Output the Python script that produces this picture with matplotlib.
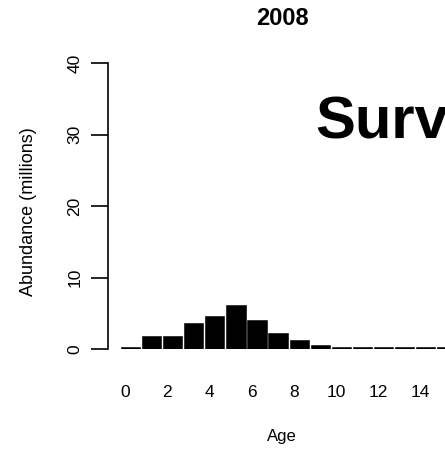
import matplotlib
matplotlib.use("Agg")
import matplotlib.pyplot as plt
import numpy as np

plt.rcParams['font.family'] = ['Liberation Sans', 'DejaVu Sans']

ages = list(range(16))
abundance = [0.25, 1.85, 1.85, 3.6, 4.65, 6.1, 4.0, 2.2, 1.3, 0.6, 0.22, 0.22, 0.22, 0.22, 0.22, 0.22]
xtick_vals = [0, 2, 4, 6, 8, 10, 12, 14]
ytick_vals = [0, 10, 20, 30, 40]
title = "2008"
big_text = "Survey"

W, H = 445, 449
fig = plt.figure(figsize=(W/100, H/100), dpi=100)

pitch = 21.1
x0px = 130.4
left_px = 108
ax = fig.add_axes([left_px/W, 100/H, (W-left_px)/W, 286/H])
ax.bar(ages, abundance, width=0.915, color='black', edgecolor='black', linewidth=0.4)
ax.set_xlim((left_px - x0px)/pitch, (W - x0px)/pitch)
ax.set_ylim(0, 40)

for s in ['top', 'right', 'bottom']:
    ax.spines[s].set_visible(False)
ax.spines['left'].set_bounds(0, 40)
ax.spines['left'].set_linewidth(1.2)

ax.set_yticks(ytick_vals)
ax.set_yticklabels([str(v) for v in ytick_vals], rotation=90, va='center', fontsize=12.5)
ax.tick_params(axis='y', length=12.5, width=1.2, pad=6)

ax.set_xticks([v - 0.25 for v in xtick_vals])
ax.set_xticklabels([str(v) for v in xtick_vals], fontsize=12.5)
ax.tick_params(axis='x', length=0, pad=26)

fig.text(282/W, 1 - 18.5/H, title, ha='center', va='center', fontsize=17, fontweight='bold')
fig.text(282/W, 1 - 437/H, "Age", ha='center', va='center', fontsize=12)
fig.text(28.5/W, 1 - 212/H, "Abundance (millions)", ha='center', va='center', rotation=90, fontsize=13)
fig.text(315/W, 1 - 138/H, big_text, ha='left', va='baseline', fontsize=43, fontweight='bold')

fig.savefig("out.png", dpi=100)
